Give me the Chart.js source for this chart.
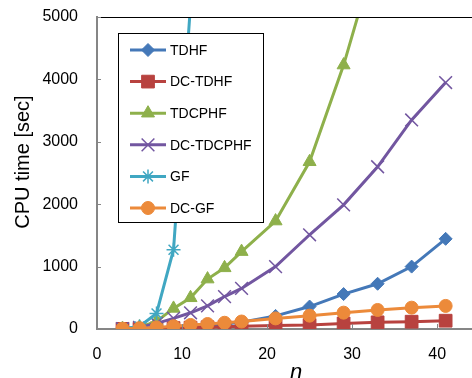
<!DOCTYPE html>
<html>
<head>
<meta charset="utf-8">
<script src="https://cdn.jsdelivr.net/npm/chart.js@4/dist/chart.umd.min.js"></script>
<style>
  body { margin: 0; background: #fff; }
</style>
</head>
<body>
<canvas id="CpuChart" width="472" height="378"></canvas>
<script>
// system size n
const nValues = [3, 5, 7, 9, 11, 13, 15, 17, 21, 25, 29, 33, 37, 41];

// CPU time [sec] per method
const tdhf     = [3, 8, 15, 25, 40, 55, 75, 110, 210, 360, 560, 725, 1000, 1445];
const dcTdhf   = [2, 5, 10, 15, 22, 28, 35, 45, 55, 65, 90, 107, 117, 133];
const tdcphf   = [5, 30, 120, 330, 500, 800, 980, 1240, 1730, 2680, 4230, 6100];
const dcTdcphf = [5, 25, 90, 170, 260, 370, 520, 650, 1000, 1510, 1990, 2600, 3350, 3950];
const gf       = [5, 40, 250, 1270, 5200];
const dcGf     = [5, 12, 25, 45, 65, 80, 100, 120, 170, 214, 262, 305, 342, 370];

const seriesNames = ["TDHF", "DC-TDHF", "TDCPHF", "DC-TDCPHF", "GF", "DC-GF"];
const yTicks = [0, 1000, 2000, 3000, 4000, 5000];
const xTicks = [0, 10, 20, 30, 40];

function toPoints(values) {
    return values.map((v, i) => ({ x: nValues[i], y: v }));
}

const styles = [
    { color: "#4478b8", pointStyle: "rectRot", radius: 6.5, bw: 1 },
    { color: "#b8423f", pointStyle: "rect", radius: 9, bw: 1 },
    { color: "#8eb04b", pointStyle: "triangle", radius: 7.5, bw: 1 },
    { color: "#7256a0", pointStyle: "crossRot", radius: 9, bw: 1.5 },
    { color: "#40a7c2", pointStyle: "star", radius: 7, bw: 1.5 },
    { color: "#ec8a3a", pointStyle: "circle", radius: 6.5, bw: 1 }
];
const allValues = [tdhf, dcTdhf, tdcphf, dcTdcphf, gf, dcGf];

const datasets = allValues.map((vals, i) => ({
    label: seriesNames[i],
    data: toPoints(vals),
    borderColor: styles[i].color,
    backgroundColor: styles[i].color,
    borderWidth: 3,
    pointStyle: styles[i].pointStyle,
    pointRadius: styles[i].radius,
    pointBackgroundColor: styles[i].color,
    pointBorderColor: styles[i].color,
    pointBorderWidth: styles[i].bw,
    tension: 0,
    order: 6 - i
}));

// top border, inner ticks, boxed legend and axis titles
const decorations = {
    id: "decorations",
    afterDatasetsDraw(chart) {
        const ctx = chart.ctx;
        const area = chart.chartArea;
        const xs = chart.scales.x;
        const ys = chart.scales.y;
        ctx.save();

        ctx.strokeStyle = "#000";
        ctx.lineWidth = 1;
        ctx.beginPath();
        ctx.moveTo(area.left, area.top + 0.5);
        ctx.lineTo(area.right, area.top + 0.5);
        ctx.stroke();

        ctx.strokeStyle = "#868686";
        ctx.lineWidth = 1;
        yTicks.forEach(v => {
            const y = Math.round(ys.getPixelForValue(v)) + 0.5;
            ctx.beginPath();
            ctx.moveTo(area.left, y);
            ctx.lineTo(area.left + 4, y);
            ctx.stroke();
        });
        xTicks.forEach(v => {
            const x = Math.round(xs.getPixelForValue(v)) + 0.5;
            ctx.beginPath();
            ctx.moveTo(x, area.bottom);
            ctx.lineTo(x, area.bottom - 5);
            ctx.stroke();
        });

        // legend box
        ctx.fillStyle = "#fff";
        ctx.fillRect(118, 33, 145, 189);
        ctx.strokeStyle = "#000";
        ctx.strokeRect(118.5, 33.5, 145, 189);

        seriesNames.forEach((name, i) => {
            const y = 50 + i * 31.6;
            const st = styles[i];
            ctx.strokeStyle = st.color;
            ctx.fillStyle = st.color;
            ctx.lineWidth = 3;
            ctx.beginPath();
            ctx.moveTo(130, y);
            ctx.lineTo(166, y);
            ctx.stroke();
            ctx.lineWidth = st.bw;
            Chart.helpers.drawPoint(ctx, { pointStyle: st.pointStyle, radius: st.radius, rotation: 0, borderWidth: st.bw }, 148, y);
            ctx.fillStyle = "#000";
            ctx.font = "14px 'Liberation Sans', Arial, sans-serif";
            ctx.textAlign = "left";
            ctx.textBaseline = "middle";
            ctx.fillText(name, 170, y + 1);
        });

        // axis titles
        ctx.fillStyle = "#000";
        ctx.textAlign = "center";
        ctx.textBaseline = "middle";
        ctx.font = "20px 'Liberation Sans', Arial, sans-serif";
        ctx.save();
        ctx.translate(23, 162);
        ctx.rotate(-Math.PI / 2);
        ctx.fillText("CPU time [sec]", 0, 0);
        ctx.restore();
        ctx.font = "italic 22px 'Liberation Sans', Arial, sans-serif";
        ctx.textBaseline = "alphabetic";
        ctx.fillText("n", 296, 379);

        ctx.restore();
    }
};

const ctx = document.getElementById("CpuChart").getContext("2d");

new Chart(ctx, {
    type: "line",
    data: { datasets: datasets },
    options: {
        responsive: false,
        animation: false,
        layout: { autoPadding: false, padding: { top: 17, right: 0, left: 0, bottom: 0 } },
        plugins: { legend: { display: false }, tooltip: { enabled: false } },
        scales: {
            x: {
                type: "linear",
                min: 0,
                max: 44.1,
                grid: { drawOnChartArea: false, drawTicks: false },
                border: { color: "#868686", width: 2 },
                ticks: {
                    stepSize: 10,
                    includeBounds: false,
                    color: "#000",
                    padding: 16,
                    font: { size: 16, family: "'Liberation Sans', Arial, sans-serif" }
                },
                afterFit(scale) {
                    scale.height = 49;
                    scale.paddingLeft = 0;
                    scale.paddingRight = 0;
                }
            },
            y: {
                min: 0,
                max: 5000,
                grid: { drawOnChartArea: false, drawTicks: false },
                border: { color: "#868686", width: 2 },
                ticks: {
                    stepSize: 1000,
                    color: "#000",
                    padding: 19,
                    font: { size: 16, family: "'Liberation Sans', Arial, sans-serif" },
                    callback: value => String(value)
                },
                afterFit(scale) {
                    scale.width = 97;
                    scale.paddingTop = 0;
                    scale.paddingBottom = 0;
                }
            }
        }
    },
    plugins: [decorations]
});
</script>
</body>
</html>
